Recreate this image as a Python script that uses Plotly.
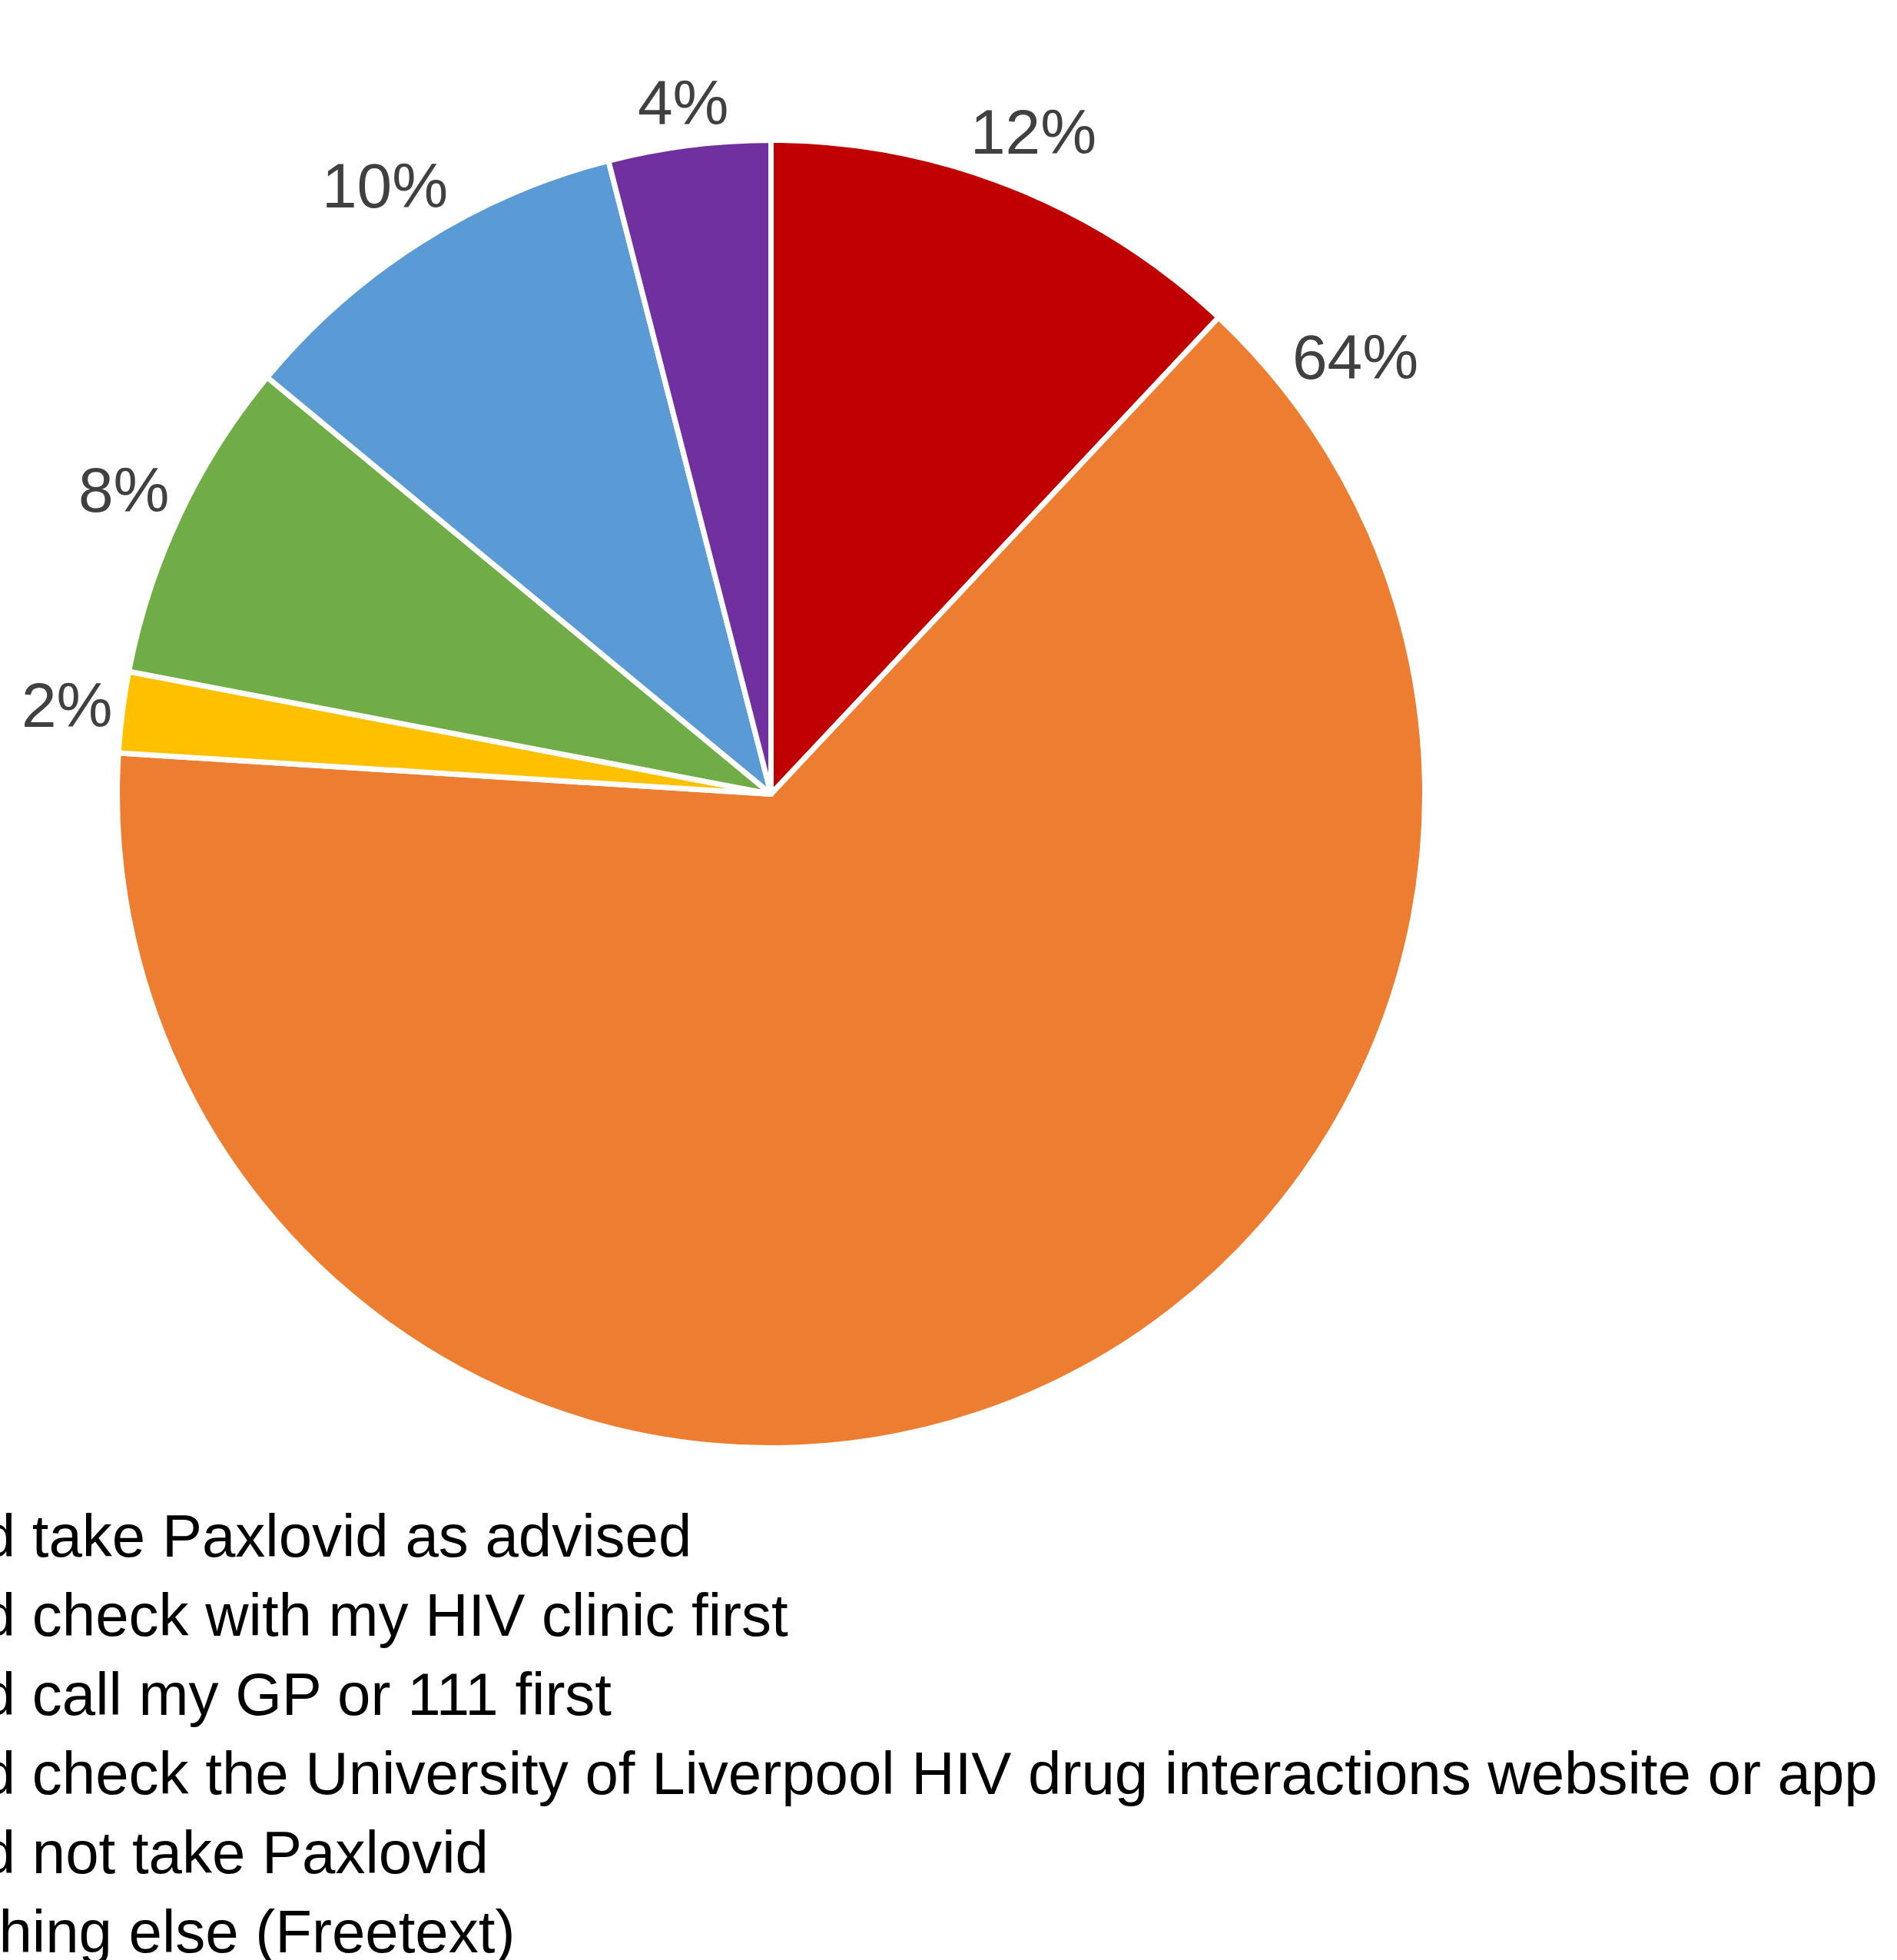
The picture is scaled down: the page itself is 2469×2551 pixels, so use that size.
import math
import plotly.graph_objects as go

# ---- data -------------------------------------------------------------
categories = [
    "I would take Paxlovid as advised",
    "I would check with my HIV clinic first",
    "I would call my GP or 111 first",
    "I would check the University of Liverpool HIV drug interactions website or app",
    "I would not take Paxlovid",
    "Something else (Freetext)",
]
shares = [12, 64, 2, 8, 10, 4]
colors = ["#C00000", "#ED7D31", "#FFC000", "#70AD47", "#5B9BD5", "#7030A0"]

# ---- layout constants -------------------------------------------------
W, H = 2469, 2551
CX, CY, R = 1003.5, 1033.5, 851          # pie centre / radius in pixels
FONT = "Liberation Sans, Arial, Helvetica, sans-serif"
LABEL_SIZE = 82
LEGEND_SIZE = 78
LEGEND_X0 = -229      # left edge of legend text (px), partly off-canvas
LEGEND_Y0 = 2026      # baseline of first legend line (px)
LEGEND_STEP = 103     # line pitch (px)
LABEL_GAP = 8

fig = go.Figure(
    go.Pie(
        labels=categories,
        values=shares,
        sort=False,
        direction="clockwise",
        rotation=0,
        marker=dict(colors=colors, line=dict(color="white", width=7)),
        textinfo="none",
        showlegend=False,
        domain=dict(
            x=[(CX - R) / W, (CX + R) / W],
            y=[1 - (CY + R) / H, 1 - (CY - R) / H],
        ),
    )
)

annotations = []

# percentage labels, placed outside each slice at its angle
total = float(sum(shares))
cum = 0.0
for v in shares:
    start = cum / total * 360.0
    cum += v
    end = cum / total * 360.0
    frac = v / total
    if frac > 0.5:
        ang = start + 10.0       # big slice: label near its leading edge
    else:
        ang = (start + end) / 2.0
    t = math.radians(ang)
    s, c = math.sin(t), math.cos(t)
    txt = f"{round(frac * 100)}%"
    hw = 0.5 * LABEL_SIZE * (0.556 * (len(txt) - 1) + 0.889)
    hh = 0.5 * LABEL_SIZE * 1.0
    rl = R + LABEL_GAP + abs(s) * hw + abs(c) * hh
    px = CX + rl * s
    py = CY - rl * c
    annotations.append(dict(
        x=px / W, y=1 - py / H, xref="paper", yref="paper",
        text=txt, showarrow=False, xanchor="center", yanchor="middle",
        font=dict(family=FONT, size=LABEL_SIZE, color="#404040"),
    ))

# legend text (markers fall off the left edge of the canvas)
for i, lab in enumerate(categories):
    base = LEGEND_Y0 + i * LEGEND_STEP
    yc = base - 0.35 * LEGEND_SIZE
    annotations.append(dict(
        x=LEGEND_X0 / W, y=1 - yc / H, xref="paper", yref="paper",
        text=lab, showarrow=False, xanchor="left", yanchor="middle",
        align="left",
        font=dict(family=FONT, size=LEGEND_SIZE, color="#000000"),
    ))

fig.update_layout(
    width=W, height=H,
    margin=dict(l=0, r=0, t=0, b=0, pad=0, autoexpand=False),
    paper_bgcolor="white",
    plot_bgcolor="white",
    showlegend=False,
    annotations=annotations,
    font=dict(family=FONT),
)

fig.write_html("out.html")
